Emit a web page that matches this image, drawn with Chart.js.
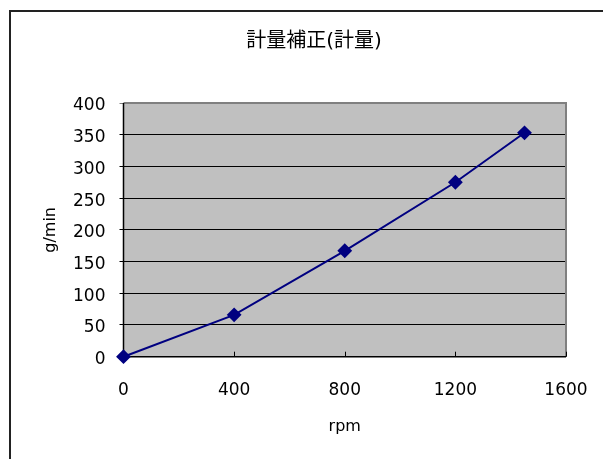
<!DOCTYPE html>
<html>
<head>
<meta charset="utf-8">
<script src="https://cdn.jsdelivr.net/npm/chart.js@4.4.1/dist/chart.umd.min.js"></script>
<style>
html,body{margin:0;padding:0;background:#fff;}
#wrap{width:603px;height:459px;}
</style>
</head>
<body>
<div id="wrap"><canvas id="c" width="603" height="459"></canvas></div>
<script>
const rpm = [0, 400, 800, 1200, 1450];
const gPerMin = [0, 66, 167, 275, 353];
const xTicks = [0, 400, 800, 1200, 1600];
const yTicks = [0, 50, 100, 150, 200, 250, 300, 350, 400];
const chartTitle = '計量補正(計量)';
const xTitle = 'rpm';
const yTitle = 'g/min';

const FONT = "'DejaVu Sans', 'Noto Sans CJK JP', sans-serif";

const decor = {
  id: 'decor',
  beforeDraw(chart) {
    const ctx = chart.ctx;
    const a = chart.chartArea;
    ctx.save();
    ctx.fillStyle = '#c0c0c0';
    ctx.fillRect(a.left, a.top, a.right - a.left, a.bottom - a.top);
    ctx.strokeStyle = '#222';
    ctx.lineWidth = 2;
    ctx.beginPath();
    ctx.moveTo(10, chart.height + 2);
    ctx.lineTo(10, 11);
    ctx.lineTo(chart.width + 2, 11);
    ctx.stroke();
    ctx.restore();
  },
  beforeDatasetsDraw(chart) {
    const ctx = chart.ctx;
    const a = chart.chartArea;
    const xs = chart.scales.x;
    ctx.save();
    ctx.strokeStyle = '#808080';
    ctx.lineWidth = 2;
    ctx.beginPath();
    ctx.moveTo(a.left, a.top);
    ctx.lineTo(a.right, a.top);
    ctx.lineTo(a.right, a.bottom);
    ctx.stroke();
    ctx.strokeStyle = '#000';
    ctx.lineWidth = 1;
    ctx.beginPath();
    xTicks.forEach(v => {
      const px = Math.round(xs.getPixelForValue(v)) + 0.5;
      ctx.moveTo(px, a.bottom);
      ctx.lineTo(px, a.bottom - 5);
    });
    ctx.stroke();
    ctx.lineWidth = 1.5;
    ctx.beginPath();
    ctx.moveTo(a.left, a.top);
    ctx.lineTo(a.left, a.bottom);
    ctx.lineTo(a.right, a.bottom);
    ctx.stroke();
    ctx.restore();
  }
};

new Chart(document.getElementById('c'), {
  type: 'line',
  data: {
    datasets: [{
      data: rpm.map((x, i) => ({x: x, y: gPerMin[i]})),
      borderColor: '#000080',
      backgroundColor: '#000080',
      borderWidth: 2,
      pointStyle: 'rectRot',
      pointRadius: 6,
      pointHoverRadius: 6,
      tension: 0,
      clip: false
    }]
  },
  options: {
    responsive: false,
    animation: false,
    events: [],
    layout: { padding: { left: 62, right: 37, top: 0, bottom: 0 } },
    plugins: {
      legend: { display: false },
      tooltip: { enabled: false },
      title: {
        display: true,
        text: chartTitle,
        color: '#000',
        font: { family: FONT, size: 20, weight: 'normal', lineHeight: 1.2 },
        padding: { top: 30, bottom: 49 }
      }
    },
    scales: {
      x: {
        type: 'linear',
        min: 0, max: 1600,
        afterBuildTicks(s) { s.ticks = xTicks.map(v => ({value: v})); },
        afterFit(s) { s.height = 102.3; },
        grid: { display: false, drawTicks: true, tickLength: 20 },
        border: { display: false },
        ticks: { color: '#000', padding: 4, maxRotation: 0, autoSkip: false,
                 callback: v => String(v),
                 font: { family: FONT, size: 17 } },
        title: { display: true, text: xTitle, color: '#000',
                 font: { family: FONT, size: 16 }, padding: { top: 0, bottom: 23 } }
      },
      y: {
        min: 0, max: 400,
        afterBuildTicks(s) { s.ticks = yTicks.map(v => ({value: v})); },
        afterFit(s) { s.width = 61.5; },
        grid: {
          color: ctx => (ctx.tick && ctx.tick.value === 400) ? '#808080' : '#000',
          lineWidth: 1,
          drawTicks: true,
          tickLength: 4
        },
        border: { display: false },
        ticks: { color: '#000', padding: 14, autoSkip: false, labelOffset: 3,
                 callback: v => String(v),
                 font: { family: FONT, size: 17 } },
        title: { display: true, text: yTitle, color: '#000',
                 font: { family: FONT, size: 16 }, padding: { top: -21, bottom: 0 } }
      }
    }
  },
  plugins: [decor]
});
</script>
</body>
</html>
